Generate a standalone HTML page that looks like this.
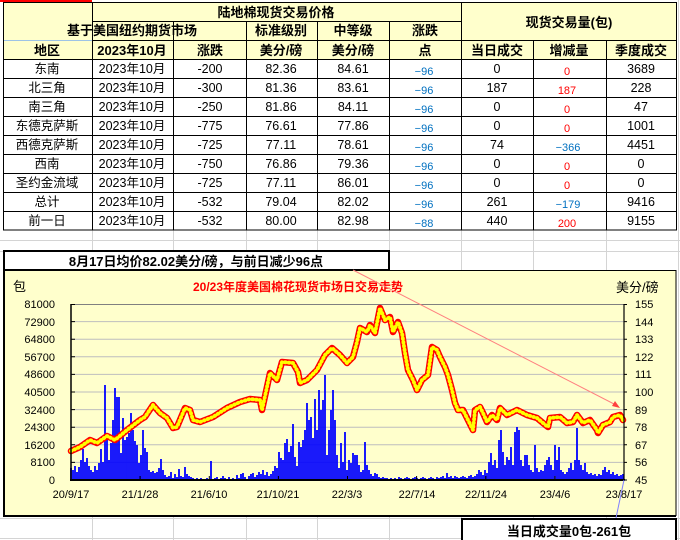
<!DOCTYPE html>
<html><head><meta charset="utf-8"><style>
html,body{margin:0;padding:0;background:#fff;}
svg{display:block;}
text{font-family:"Liberation Sans","Noto Sans CJK SC",sans-serif;}
.h{font-size:13px;font-weight:bold;fill:#000;}
.d{font-size:12.5px;fill:#000;}
.b{font-size:11px;fill:#0070C0;}
.r{font-size:11px;fill:#FF0000;}
.t{font-size:11px;fill:#000;}
</style></head><body>
<svg width="680" height="540" viewBox="0 0 680 540" xmlns="http://www.w3.org/2000/svg">
<!-- spreadsheet gridlines -->
<g stroke="#D4D4D4" stroke-width="1">
<line x1="0" y1="240.5" x2="680" y2="240.5"/>
<line x1="0" y1="251.5" x2="680" y2="251.5"/>
<line x1="0" y1="518.5" x2="680" y2="518.5"/>
<line x1="0" y1="538.5" x2="680" y2="538.5"/>
<line x1="92.5" y1="230" x2="92.5" y2="540"/>
<line x1="173.5" y1="230" x2="173.5" y2="540"/>
<line x1="246.5" y1="230" x2="246.5" y2="540"/>
<line x1="317.5" y1="230" x2="317.5" y2="540"/>
<line x1="389.5" y1="230" x2="389.5" y2="540"/>
<line x1="461.5" y1="230" x2="461.5" y2="540"/>
<line x1="533.5" y1="230" x2="533.5" y2="540"/>
<line x1="606.5" y1="230" x2="606.5" y2="540"/>
<line x1="678.5" y1="0" x2="678.5" y2="540"/>
</g>
<!-- table -->
<rect x="0" y="0" width="92" height="2" fill="#FF0000"/>
<rect x="3" y="2" width="674" height="57" fill="#FFFFCC"/>
<rect x="3" y="59" width="674" height="171" fill="#FFFFFF"/>
<line x1="3" y1="40.5" x2="92" y2="40.5" stroke="#9DC3E6" stroke-width="1"/>
<g stroke="#000" stroke-width="1">
<rect x="3.5" y="2.5" width="673" height="227.5" fill="none"/>
<line x1="92" y1="21.5" x2="461" y2="21.5"/>
<line x1="92" y1="40.5" x2="677" y2="40.5"/>
<line x1="3" y1="59.5" x2="677" y2="59.5"/>
<line x1="3" y1="78.5" x2="677" y2="78.5"/>
<line x1="3" y1="97.5" x2="677" y2="97.5"/>
<line x1="3" y1="116.5" x2="677" y2="116.5"/>
<line x1="3" y1="135.5" x2="677" y2="135.5"/>
<line x1="3" y1="154.5" x2="677" y2="154.5"/>
<line x1="3" y1="173.5" x2="677" y2="173.5"/>
<line x1="3" y1="192.5" x2="677" y2="192.5"/>
<line x1="3" y1="211.5" x2="677" y2="211.5"/>
<line x1="92.5" y1="2" x2="92.5" y2="230"/>
<line x1="173.5" y1="21" x2="173.5" y2="230"/>
<line x1="246.5" y1="21" x2="246.5" y2="230"/>
<line x1="317.5" y1="21" x2="317.5" y2="230"/>
<line x1="389.5" y1="21" x2="389.5" y2="230"/>
<line x1="461.5" y1="2" x2="461.5" y2="230"/>
<line x1="533.5" y1="40" x2="533.5" y2="230"/>
<line x1="606.5" y1="40" x2="606.5" y2="230"/>
</g>
<g text-anchor="middle">
<text class="h" x="276" y="17">陆地棉现货交易价格</text>
<text class="h" x="569" y="27">现货交易量(包)</text>
<text class="h" x="132" y="35">基于美国纽约期货市场</text>
<text class="h" x="281" y="35">标准级别</text>
<text class="h" x="353" y="35">中等级</text>
<text class="h" x="425" y="35">涨跌</text>
<text class="h" x="47" y="55">地区</text>
<text class="h" x="132" y="55">2023年10月</text>
<text class="h" x="210" y="55">涨跌</text>
<text class="h" x="281" y="55">美分/磅</text>
<text class="h" x="353" y="55">美分/磅</text>
<text class="h" x="425" y="55">点</text>
<text class="h" x="497" y="55">当日成交</text>
<text class="h" x="569" y="55">增减量</text>
<text class="h" x="641" y="55">季度成交</text>

<g class="d">
<text x="47" y="73">东南</text><text x="132" y="73">2023年10月</text><text x="210" y="73">-200</text><text x="281" y="73">82.36</text><text x="353" y="73">84.61</text><text x="497" y="73">0</text><text x="641" y="73">3689</text>
<text x="47" y="92">北三角</text><text x="132" y="92">2023年10月</text><text x="210" y="92">-300</text><text x="281" y="92">81.36</text><text x="353" y="92">83.61</text><text x="497" y="92">187</text><text x="641" y="92">228</text>
<text x="47" y="111">南三角</text><text x="132" y="111">2023年10月</text><text x="210" y="111">-250</text><text x="281" y="111">81.86</text><text x="353" y="111">84.11</text><text x="497" y="111">0</text><text x="641" y="111">47</text>
<text x="47" y="130">东德克萨斯</text><text x="132" y="130">2023年10月</text><text x="210" y="130">-775</text><text x="281" y="130">76.61</text><text x="353" y="130">77.86</text><text x="497" y="130">0</text><text x="641" y="130">1001</text>
<text x="47" y="149">西德克萨斯</text><text x="132" y="149">2023年10月</text><text x="210" y="149">-725</text><text x="281" y="149">77.11</text><text x="353" y="149">78.61</text><text x="497" y="149">74</text><text x="641" y="149">4451</text>
<text x="47" y="168">西南</text><text x="132" y="168">2023年10月</text><text x="210" y="168">-750</text><text x="281" y="168">76.86</text><text x="353" y="168">79.36</text><text x="497" y="168">0</text><text x="641" y="168">0</text>
<text x="47" y="187">圣约金流域</text><text x="132" y="187">2023年10月</text><text x="210" y="187">-725</text><text x="281" y="187">77.11</text><text x="353" y="187">86.01</text><text x="497" y="187">0</text><text x="641" y="187">0</text>
<text x="47" y="206">总计</text><text x="132" y="206">2023年10月</text><text x="210" y="206">-532</text><text x="281" y="206">79.04</text><text x="353" y="206">82.02</text><text x="497" y="206">261</text><text x="641" y="206">9416</text>
<text x="47" y="225">前一日</text><text x="132" y="225">2023年10月</text><text x="210" y="225">-532</text><text x="281" y="225">80.00</text><text x="353" y="225">82.98</text><text x="497" y="225">440</text><text x="641" y="225">9155</text>
</g>
<g class="b">
<text x="424" y="75">−96</text><text x="424" y="94">−96</text><text x="424" y="113">−96</text><text x="424" y="132">−96</text><text x="424" y="151">−96</text><text x="424" y="170">−96</text><text x="424" y="189">−96</text><text x="424" y="208">−96</text><text x="424" y="227">−88</text>
<text x="568" y="151">−366</text><text x="568" y="208">−179</text>
</g>
<g class="r">
<text x="567" y="75">0</text><text x="567" y="94">187</text><text x="567" y="113">0</text><text x="567" y="132">0</text><text x="567" y="170">0</text><text x="567" y="189">0</text><text x="567" y="227">200</text>
</g>
</g>

<!-- chart -->
<rect x="3.5" y="270.5" width="672.5" height="245" fill="#FFFFCC" stroke="#000" stroke-width="1"/>
<line x1="4" y1="270" x2="4" y2="516" stroke="#000" stroke-width="2"/>
<line x1="3" y1="516" x2="676" y2="516" stroke="#000" stroke-width="2"/>
<rect x="4" y="251" width="385" height="19" fill="#FFFFFF" stroke="#000" stroke-width="2"/>
<text x="196" y="266" text-anchor="middle" style="font-size:13px;font-weight:bold;fill:#000;">8月17日均价82.02美分/磅，与前日减少96点</text>

<text x="13" y="291" style="font-size:13px;fill:#000;">包</text>
<text x="616" y="292" style="font-size:13px;fill:#000;">美分/磅</text>
<text x="298" y="291" text-anchor="middle" style="font-size:12px;font-weight:bold;fill:#FF0000;">20/23年度美国棉花现货市场日交易走势</text>

<!-- grid -->
<g stroke="#BEBEBE" stroke-width="1">
<line x1="71" y1="321.6" x2="624" y2="321.6"/>
<line x1="71" y1="339.2" x2="624" y2="339.2"/>
<line x1="71" y1="356.8" x2="624" y2="356.8"/>
<line x1="71" y1="374.4" x2="624" y2="374.4"/>
<line x1="71" y1="392" x2="624" y2="392"/>
<line x1="71" y1="409.6" x2="624" y2="409.6"/>
<line x1="71" y1="427.2" x2="624" y2="427.2"/>
<line x1="71" y1="444.8" x2="624" y2="444.8"/>
<line x1="71" y1="462.4" x2="624" y2="462.4"/>
</g>
<line x1="71" y1="304.5" x2="624" y2="304.5" stroke="#808080" stroke-width="1"/>

<!-- bars -->
<path fill="none" stroke="#0000FF" stroke-width="1.8" d="M71 480V468M73 480V470M75 480V466M77 480V472M79 480V467M81 480V460M83 480V449M85 480V462M87 480V458M89 480V466M91 480V470M93 480V472M95 480V466M97 480V470M99 480V463M101 480V449M103 480V462M105 480V385M107 480V440M109 480V460M111 480V443M113 480V420M115 480V388M117 480V397M119 480V397M121 480V453M123 480V418M125 480V440M127 480V437M129 480V433M131 480V413M133 480V430M135 480V441M137 480V445M139 480V463M141 480V455M143 480V430M145 480V448M147 480V452M149 480V470M151 480V472M153 480V471M155 480V473M157 480V472M159 480V468M161 480V459M163 480V470M165 480V475M167 480V477M169 480V476M171 480V472M173 480V478M175 480V474M177 480V477M179 480V469M181 480V476M183 480V477M185 480V467M187 480V474M189 480V476M191 480V477M193 480V478M195 480V479M197 480V478M201 480V478M207 480V478M211 480V461M215 480V478M217 480V477M221 480V478M223 480V476M225 480V478M229 480V477M233 480V478M237 480V475M239 480V478M241 480V474M243 480V473M245 480V477M249 480V476M251 480V474M253 480V473M255 480V477M257 480V475M259 480V472M261 480V474M263 480V470M265 480V475M267 480V472M269 480V476M271 480V474M273 480V471M275 480V466M277 480V468M279 480V452M281 480V458M283 480V460M285 480V443M287 480V439M289 480V452M291 480V446M293 480V424M295 480V457M297 480V466M299 480V442M301 480V447M303 480V440M305 480V430M307 480V403M309 480V420M311 480V417M313 480V438M315 480V399M317 480V430M319 480V390M321 480V410M323 480V400M325 480V375M327 480V455M329 480V430M331 480V410M333 480V390M335 480V420M337 480V455M339 480V468M341 480V443M343 480V462M345 480V432M347 480V470M349 480V460M351 480V463M353 480V453M355 480V455M357 480V455M359 480V465M361 480V472M363 480V470M365 480V442M367 480V465M369 480V470M371 480V474M373 480V476M375 480V473M377 480V474M379 480V477M381 480V478M383 480V477M385 480V478M387 480V478M391 480V478M395 480V478M399 480V477M401 480V478M405 480V478M407 480V477M409 480V478M413 480V478M415 480V477M417 480V478M421 480V478M423 480V477M425 480V478M429 480V478M431 480V477M433 480V478M437 480V477M439 480V478M441 480V477M443 480V476M445 480V478M447 480V473M449 480V477M451 480V476M453 480V478M455 480V476M457 480V477M459 480V478M461 480V477M463 480V476M465 480V477M467 480V478M469 480V476M471 480V475M473 480V477M475 480V476M477 480V474M479 480V470M481 480V472M483 480V475M485 480V470M487 480V473M489 480V462M491 480V453M493 480V465M495 480V460M497 480V468M499 480V440M501 480V430M503 480V452M505 480V465M507 480V457M509 480V460M511 480V447M513 480V465M515 480V432M517 480V427M519 480V430M521 480V460M523 480V466M525 480V455M527 480V455M529 480V465M531 480V470M533 480V472M535 480V445M537 480V468M539 480V472M541 480V470M543 480V471M545 480V465M547 480V460M549 480V457M551 480V465M553 480V470M555 480V445M557 480V460M559 480V447M561 480V470M563 480V472M565 480V474M567 480V472M569 480V468M571 480V463M573 480V470M575 480V460M577 480V428M579 480V460M581 480V465M583 480V470M585 480V463M587 480V472M589 480V474M591 480V473M593 480V475M595 480V474M597 480V476M599 480V474M601 480V475M603 480V470M605 480V467M607 480V472M609 480V470M611 480V474M613 480V472M615 480V475M617 480V474M619 480V476M621 480V475M623 480V474"/>

<!-- price line -->
<g fill="none" stroke-linejoin="round" stroke-linecap="round">
<polyline stroke="#FF0000" stroke-width="6.5" points="71,451 80,447 90,440 97,443 107,436 115,440 127,430 140,420 145,417 153,405 160,413 167,418 173,428 177,427 185,408 190,410 193,420 200,422 213,417 227,408 240,402 250,399 260,400 262,410 267,387 270,373 277,380 282,362 293,363 298,372 300,383 307,380 317,370 325,355 332,348 340,355 347,363 353,357 357,342 360,328 367,332 370,325 375,333 380,308 385,320 390,317 393,332 398,322 402,333 405,353 408,370 413,380 417,390 422,380 428,375 432,347 437,350 440,357 445,367 448,375 452,390 455,403 458,410 463,410 468,420 473,430 475,410 480,407 483,413 487,422 492,415 497,420 500,408 507,415 517,410 527,415 537,418 543,423 548,427 550,418 560,417 567,423 573,422 577,415 583,423 590,420 597,430 598,433 603,425 610,422 613,417 620,415 623,420"/>
<polyline stroke="#FFFF00" stroke-width="3.8" stroke-dasharray="0.6 3.2" points="71,451 80,447 90,440 97,443 107,436 115,440 127,430 140,420 145,417 153,405 160,413 167,418 173,428 177,427 185,408 190,410 193,420 200,422 213,417 227,408 240,402 250,399 260,400 262,410 267,387 270,373 277,380 282,362 293,363 298,372 300,383 307,380 317,370 325,355 332,348 340,355 347,363 353,357 357,342 360,328 367,332 370,325 375,333 380,308 385,320 390,317 393,332 398,322 402,333 405,353 408,370 413,380 417,390 422,380 428,375 432,347 437,350 440,357 445,367 448,375 452,390 455,403 458,410 463,410 468,420 473,430 475,410 480,407 483,413 487,422 492,415 497,420 500,408 507,415 517,410 527,415 537,418 543,423 548,427 550,418 560,417 567,423 573,422 577,415 583,423 590,420 597,430 598,433 603,425 610,422 613,417 620,415 623,420"/>
</g>

<!-- axes -->
<line x1="71" y1="304" x2="71" y2="481" stroke="#000" stroke-width="1.5"/>
<line x1="624" y1="304" x2="624" y2="481" stroke="#000" stroke-width="1.2"/>
<line x1="70" y1="480" x2="625" y2="480" stroke="#000" stroke-width="2"/>
<g stroke="#000" stroke-width="1">
<path d="M71 304.5h4M71 321.6h4M71 339.2h4M71 356.8h4M71 374.4h4M71 392h4M71 409.6h4M71 427.2h4M71 444.8h4M71 462.4h4"/>
<path d="M624 304.5h3M624 321.6h3M624 339.2h3M624 356.8h3M624 374.4h3M624 392h3M624 409.6h3M624 427.2h3M624 444.8h3M624 462.4h3M624 480h3"/>
<path d="M140.1 480v-4M209.3 480v-4M278.4 480v-4M347.5 480v-4M416.6 480v-4M485.8 480v-4M554.9 480v-4"/>
</g>

<g class="t" text-anchor="end">
<text x="55" y="308">81000</text><text x="55" y="326">72900</text><text x="55" y="343">64800</text><text x="55" y="361">56700</text><text x="55" y="378">48600</text><text x="55" y="396">40500</text><text x="55" y="414">32400</text><text x="55" y="431">24300</text><text x="55" y="449">16200</text><text x="55" y="466">8100</text><text x="55" y="484">0</text>
</g>
<g class="t">
<text x="635" y="308">155</text><text x="635" y="326">144</text><text x="635" y="343">133</text><text x="635" y="361">122</text><text x="635" y="378">111</text><text x="635" y="396">100</text><text x="635" y="414">89</text><text x="635" y="431">78</text><text x="635" y="449">67</text><text x="635" y="466">56</text><text x="635" y="484">45</text>
</g>
<g class="t" text-anchor="middle">
<text x="71" y="498">20/9/17</text><text x="140" y="498">21/1/28</text><text x="209" y="498">21/6/10</text><text x="278" y="498">21/10/21</text><text x="347" y="498">22/3/3</text><text x="417" y="498">22/7/14</text><text x="486" y="498">22/11/24</text><text x="555" y="498">23/4/6</text><text x="624" y="498">23/8/17</text>
</g>

<!-- annotation lines -->
<line x1="353" y1="270" x2="616" y2="405" stroke="#FF8080" stroke-width="1"/>
<polygon points="620,408 612,406 615,401" fill="#FF4040"/>
<line x1="616" y1="518" x2="624" y2="480" stroke="#8080FF" stroke-width="1"/>

<!-- bottom box -->
<rect x="462" y="519" width="214" height="24" fill="#FFFFFF" stroke="#000" stroke-width="2"/>
<text x="569" y="536" text-anchor="middle" style="font-size:13px;font-weight:bold;fill:#000;">当日成交量0包-261包</text>
</svg>
</body></html>
